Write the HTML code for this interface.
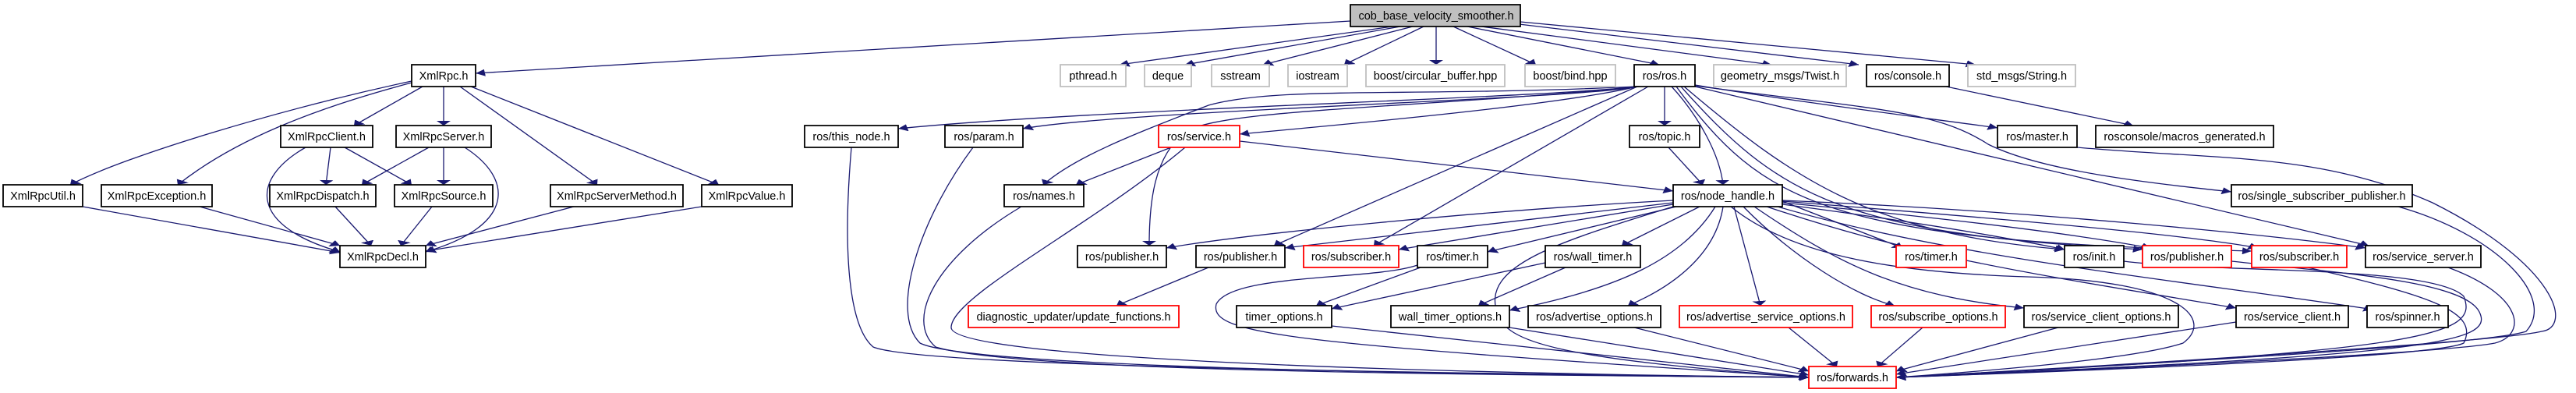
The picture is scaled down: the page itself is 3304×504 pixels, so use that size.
<!DOCTYPE html>
<html><head><meta charset="utf-8"><style>
html,body{margin:0;padding:0;background:#fff;}
svg{display:block;}
.e{fill:none;stroke:#191970;stroke-width:1.3;}
.n{fill:#fff;stroke:#000;stroke-width:1.8;}
.g{fill:#fff;stroke:#bfbfbf;stroke-width:1.8;}
.r{fill:#fff;stroke:#ff0000;stroke-width:1.8;}
text{font-family:"Liberation Sans",sans-serif;font-size:14.5px;text-anchor:middle;fill:#000;}
</style></head><body>
<svg width="3304" height="504" viewBox="0 0 3304 504" xmlns="http://www.w3.org/2000/svg">
<defs><marker id="a" markerWidth="6" markerHeight="9" refX="6" refY="4.5" orient="auto" markerUnits="userSpaceOnUse"><path d="M0,0 L6,4.5 L0,9 z" fill="#191970"/></marker></defs>
<g transform="scale(2,1)">
<g marker-end="url(#a)">
<path class="e" vector-effect="non-scaling-stroke" d="M866,27 L305,94"/>
<path class="e" vector-effect="non-scaling-stroke" d="M893,34 L718,83"/>
<path class="e" vector-effect="non-scaling-stroke" d="M898,34 L760,83"/>
<path class="e" vector-effect="non-scaling-stroke" d="M906,34 L810,83"/>
<path class="e" vector-effect="non-scaling-stroke" d="M913,34 L862,83"/>
<path class="e" vector-effect="non-scaling-stroke" d="M921,34 L921,83"/>
<path class="e" vector-effect="non-scaling-stroke" d="M932,34 L985,83"/>
<path class="e" vector-effect="non-scaling-stroke" d="M941,34 L1064,83"/>
<path class="e" vector-effect="non-scaling-stroke" d="M950,34 L1136,83"/>
<path class="e" vector-effect="non-scaling-stroke" d="M970,30 L1192,83"/>
<path class="e" vector-effect="non-scaling-stroke" d="M975,28 L1267,83"/>
<path class="e" vector-effect="non-scaling-stroke" d="M264,104 C180,140 80,200 45,237"/>
<path class="e" vector-effect="non-scaling-stroke" d="M264,106 C200,140 150,180 114,237"/>
<path class="e" vector-effect="non-scaling-stroke" d="M271,111 L227,161"/>
<path class="e" vector-effect="non-scaling-stroke" d="M284.5,111 L284.5,161"/>
<path class="e" vector-effect="non-scaling-stroke" d="M295,111 L383,237"/>
<path class="e" vector-effect="non-scaling-stroke" d="M302,111 L461,237"/>
<path class="e" vector-effect="non-scaling-stroke" d="M212,189 L209,237"/>
<path class="e" vector-effect="non-scaling-stroke" d="M221,189 L264,237"/>
<path class="e" vector-effect="non-scaling-stroke" d="M196,189 C160,230 160,290 218,323"/>
<path class="e" vector-effect="non-scaling-stroke" d="M275,189 L232,237"/>
<path class="e" vector-effect="non-scaling-stroke" d="M284.5,189 L284.5,237"/>
<path class="e" vector-effect="non-scaling-stroke" d="M298,189 C330,230 330,290 273,323"/>
<path class="e" vector-effect="non-scaling-stroke" d="M53,265 L218,324"/>
<path class="e" vector-effect="non-scaling-stroke" d="M128,265 L218,315"/>
<path class="e" vector-effect="non-scaling-stroke" d="M215,265 L238,315"/>
<path class="e" vector-effect="non-scaling-stroke" d="M277,265 L257,315"/>
<path class="e" vector-effect="non-scaling-stroke" d="M368,265 L273,315"/>
<path class="e" vector-effect="non-scaling-stroke" d="M450,265 L273,322"/>
<path class="e" vector-effect="non-scaling-stroke" d="M1048,111 C1000,125 700,140 576,165"/>
<path class="e" vector-effect="non-scaling-stroke" d="M1048,112 C1000,128 720,142 656,165"/>
<path class="e" vector-effect="non-scaling-stroke" d="M1050,111 C1000,135 860,160 795,172"/>
<path class="e" vector-effect="non-scaling-stroke" d="M1050,111 C900,125 820,110 775,135 C730,170 690,200 669,237"/>
<path class="e" vector-effect="non-scaling-stroke" d="M1052,111 C900,140 780,140 760,170 C740,200 737,260 737,315"/>
<path class="e" vector-effect="non-scaling-stroke" d="M1050,111 L817,315"/>
<path class="e" vector-effect="non-scaling-stroke" d="M1057,111 L881,315"/>
<path class="e" vector-effect="non-scaling-stroke" d="M1067.5,111 L1067.5,161"/>
<path class="e" vector-effect="non-scaling-stroke" d="M1072,111 C1090,150 1103,200 1105,237"/>
<path class="e" vector-effect="non-scaling-stroke" d="M1087,109 C1150,130 1230,150 1281,164"/>
<path class="e" vector-effect="non-scaling-stroke" d="M1087,110 C1200,140 1240,140 1275,185 C1310,220 1380,235 1431,246"/>
<path class="e" vector-effect="non-scaling-stroke" d="M1087,111 L1519,315"/>
<path class="e" vector-effect="non-scaling-stroke" d="M1080,111 C1150,230 1200,300 1324,320"/>
<path class="e" vector-effect="non-scaling-stroke" d="M1078,111 C1140,250 1180,300 1374,320"/>
<path class="e" vector-effect="non-scaling-stroke" d="M1075,111 C1130,260 1170,310 1444,322"/>
<path class="e" vector-effect="non-scaling-stroke" d="M1248,111 L1368,161"/>
<path class="e" vector-effect="non-scaling-stroke" d="M546,189 C540,330 545,420 560,445 C590,470 900,478 1160,484"/>
<path class="e" vector-effect="non-scaling-stroke" d="M624,189 C590,280 570,400 590,440 C620,470 900,480 1160,484"/>
<path class="e" vector-effect="non-scaling-stroke" d="M655,265 C600,330 580,410 600,445 C650,475 900,480 1160,484"/>
<path class="e" vector-effect="non-scaling-stroke" d="M751,189 L690,237"/>
<path class="e" vector-effect="non-scaling-stroke" d="M795,181 L1073,245"/>
<path class="e" vector-effect="non-scaling-stroke" d="M760,189 C700,290 610,380 610,420 C610,460 900,478 1160,484"/>
<path class="e" vector-effect="non-scaling-stroke" d="M1070,189 L1092,237"/>
<path class="e" vector-effect="non-scaling-stroke" d="M1332,189 C1420,205 1487,195 1560,260 C1640,340 1650,420 1630,425 C1600,440 1300,475 1216,484"/>
<path class="e" vector-effect="non-scaling-stroke" d="M1538,265 C1600,300 1640,380 1620,425 C1590,445 1300,475 1216,484"/>
<path class="e" vector-effect="non-scaling-stroke" d="M1570,343 C1620,380 1620,430 1600,440 C1560,455 1300,478 1216,484"/>
<path class="e" vector-effect="non-scaling-stroke" d="M1362,335 C1420,350 1560,340 1580,380 C1590,430 1560,450 1216,484"/>
<path class="e" vector-effect="non-scaling-stroke" d="M1431,335 C1500,350 1580,360 1590,400 C1600,440 1560,455 1216,484"/>
<path class="e" vector-effect="non-scaling-stroke" d="M1480,343 C1560,380 1590,400 1580,440 C1560,460 1300,478 1216,484"/>
<path class="e" vector-effect="non-scaling-stroke" d="M1434,413 L1216,480"/>
<path class="e" vector-effect="non-scaling-stroke" d="M1320,420 L1216,476"/>
<path class="e" vector-effect="non-scaling-stroke" d="M1233,420 L1204,470"/>
<path class="e" vector-effect="non-scaling-stroke" d="M1147,420 L1178,470"/>
<path class="e" vector-effect="non-scaling-stroke" d="M1048,420 L1160,476"/>
<path class="e" vector-effect="non-scaling-stroke" d="M968,420 L1160,481"/>
<path class="e" vector-effect="non-scaling-stroke" d="M854,418 L1160,484"/>
<path class="e" vector-effect="non-scaling-stroke" d="M909,340 C880,360 790,350 780,390 C775,430 830,440 1160,484"/>
<path class="e" vector-effect="non-scaling-stroke" d="M991,337 L854,396"/>
<path class="e" vector-effect="non-scaling-stroke" d="M1004,343 L948,392"/>
<path class="e" vector-effect="non-scaling-stroke" d="M911,343 L844,392"/>
<path class="e" vector-effect="non-scaling-stroke" d="M775,343 L716,392"/>
<path class="e" vector-effect="non-scaling-stroke" d="M1073,257 C950,270 800,300 748,318"/>
<path class="e" vector-effect="non-scaling-stroke" d="M1073,260 L824,318"/>
<path class="e" vector-effect="non-scaling-stroke" d="M1073,262 L897,320"/>
<path class="e" vector-effect="non-scaling-stroke" d="M1075,265 L954,323"/>
<path class="e" vector-effect="non-scaling-stroke" d="M1090,265 L1040,315"/>
<path class="e" vector-effect="non-scaling-stroke" d="M1100,265 C1080,330 1040,370 968,398"/>
<path class="e" vector-effect="non-scaling-stroke" d="M1105,265 C1100,330 1070,370 1044,392"/>
<path class="e" vector-effect="non-scaling-stroke" d="M1112,265 L1129,392"/>
<path class="e" vector-effect="non-scaling-stroke" d="M1118,265 C1150,330 1190,380 1215,392"/>
<path class="e" vector-effect="non-scaling-stroke" d="M1125,265 C1180,340 1220,380 1298,395"/>
<path class="e" vector-effect="non-scaling-stroke" d="M1133,265 C1230,330 1300,350 1434,395"/>
<path class="e" vector-effect="non-scaling-stroke" d="M1140,265 C1250,330 1400,360 1522,397"/>
<path class="e" vector-effect="non-scaling-stroke" d="M1143,258 L1220,318"/>
<path class="e" vector-effect="non-scaling-stroke" d="M1143,262 C1250,290 1300,310 1324,320"/>
<path class="e" vector-effect="non-scaling-stroke" d="M1143,260 C1250,280 1330,300 1379,318"/>
<path class="e" vector-effect="non-scaling-stroke" d="M1143,258 C1280,280 1400,300 1448,318"/>
<path class="e" vector-effect="non-scaling-stroke" d="M1143,257 C1300,270 1450,300 1517,318"/>
<path class="e" vector-effect="non-scaling-stroke" d="M1073,265 C1000,310 950,340 960,400 C965,440 1000,460 1160,484"/>
<path class="e" vector-effect="non-scaling-stroke" d="M1110,265 C1150,330 1220,350 1300,355 C1400,360 1420,410 1400,440 C1370,460 1280,475 1216,484"/>
</g>
<g>
<rect x="866" y="6" width="109" height="28" fill="#bfbfbf" stroke="#000" stroke-width="1.8" vector-effect="non-scaling-stroke"/>
<rect class="n" vector-effect="non-scaling-stroke" x="264" y="83" width="41" height="28"/>
<rect class="g" vector-effect="non-scaling-stroke" x="680" y="83" width="42" height="28"/>
<rect class="g" vector-effect="non-scaling-stroke" x="734" y="83" width="30" height="28"/>
<rect class="g" vector-effect="non-scaling-stroke" x="777" y="83" width="37" height="28"/>
<rect class="g" vector-effect="non-scaling-stroke" x="826" y="83" width="38" height="28"/>
<rect class="g" vector-effect="non-scaling-stroke" x="876" y="83" width="89" height="28"/>
<rect class="g" vector-effect="non-scaling-stroke" x="978" y="83" width="58" height="28"/>
<rect class="n" vector-effect="non-scaling-stroke" x="1048" y="83" width="39" height="28"/>
<rect class="g" vector-effect="non-scaling-stroke" x="1099" y="83" width="85" height="28"/>
<rect class="n" vector-effect="non-scaling-stroke" x="1197" y="83" width="53" height="28"/>
<rect class="g" vector-effect="non-scaling-stroke" x="1262" y="83" width="69" height="28"/>
<rect class="n" vector-effect="non-scaling-stroke" x="180" y="161" width="59" height="28"/>
<rect class="n" vector-effect="non-scaling-stroke" x="254" y="161" width="61" height="28"/>
<rect class="n" vector-effect="non-scaling-stroke" x="516" y="161" width="60" height="28"/>
<rect class="n" vector-effect="non-scaling-stroke" x="606" y="161" width="50" height="28"/>
<rect class="r" vector-effect="non-scaling-stroke" x="743" y="161" width="52" height="28"/>
<rect class="n" vector-effect="non-scaling-stroke" x="1045" y="161" width="45" height="28"/>
<rect class="n" vector-effect="non-scaling-stroke" x="1281" y="161" width="51" height="28"/>
<rect class="n" vector-effect="non-scaling-stroke" x="1344" y="161" width="114" height="28"/>
<rect class="n" vector-effect="non-scaling-stroke" x="2" y="237" width="51" height="28"/>
<rect class="n" vector-effect="non-scaling-stroke" x="65" y="237" width="71" height="28"/>
<rect class="n" vector-effect="non-scaling-stroke" x="173" y="237" width="68" height="28"/>
<rect class="n" vector-effect="non-scaling-stroke" x="253" y="237" width="63" height="28"/>
<rect class="n" vector-effect="non-scaling-stroke" x="353" y="237" width="85" height="28"/>
<rect class="n" vector-effect="non-scaling-stroke" x="450" y="237" width="58" height="28"/>
<rect class="n" vector-effect="non-scaling-stroke" x="644" y="237" width="51" height="28"/>
<rect class="n" vector-effect="non-scaling-stroke" x="1073" y="237" width="70" height="28"/>
<rect class="n" vector-effect="non-scaling-stroke" x="1431" y="237" width="116" height="28"/>
<rect class="n" vector-effect="non-scaling-stroke" x="218" y="315" width="55" height="28"/>
<rect class="n" vector-effect="non-scaling-stroke" x="691" y="315" width="57" height="28"/>
<rect class="n" vector-effect="non-scaling-stroke" x="767" y="315" width="57" height="28"/>
<rect class="r" vector-effect="non-scaling-stroke" x="836" y="315" width="61" height="28"/>
<rect class="n" vector-effect="non-scaling-stroke" x="909" y="315" width="45" height="28"/>
<rect class="n" vector-effect="non-scaling-stroke" x="991" y="315" width="61" height="28"/>
<rect class="r" vector-effect="non-scaling-stroke" x="1216" y="315" width="45" height="28"/>
<rect class="n" vector-effect="non-scaling-stroke" x="1324" y="315" width="38" height="28"/>
<rect class="r" vector-effect="non-scaling-stroke" x="1374" y="315" width="57" height="28"/>
<rect class="r" vector-effect="non-scaling-stroke" x="1444" y="315" width="61" height="28"/>
<rect class="n" vector-effect="non-scaling-stroke" x="1517" y="315" width="74" height="28"/>
<rect class="r" vector-effect="non-scaling-stroke" x="621" y="392" width="135" height="28"/>
<rect class="n" vector-effect="non-scaling-stroke" x="793" y="392" width="61" height="28"/>
<rect class="n" vector-effect="non-scaling-stroke" x="892" y="392" width="76" height="28"/>
<rect class="n" vector-effect="non-scaling-stroke" x="980" y="392" width="85" height="28"/>
<rect class="r" vector-effect="non-scaling-stroke" x="1077" y="392" width="111" height="28"/>
<rect class="r" vector-effect="non-scaling-stroke" x="1200" y="392" width="86" height="28"/>
<rect class="n" vector-effect="non-scaling-stroke" x="1298" y="392" width="99" height="28"/>
<rect class="n" vector-effect="non-scaling-stroke" x="1434" y="392" width="72" height="28"/>
<rect class="n" vector-effect="non-scaling-stroke" x="1518" y="392" width="52" height="28"/>
<rect class="r" vector-effect="non-scaling-stroke" x="1160" y="470" width="56" height="28"/>
</g>
</g>
<g>
<text x="1842" y="25">cob_base_velocity_smoother.h</text>
<text x="569" y="102">XmlRpc.h</text>
<text x="1402" y="102">pthread.h</text>
<text x="1498" y="102">deque</text>
<text x="1591" y="102">sstream</text>
<text x="1690" y="102">iostream</text>
<text x="1841" y="102">boost/circular_buffer.hpp</text>
<text x="2014" y="102">boost/bind.hpp</text>
<text x="2135" y="102">ros/ros.h</text>
<text x="2283" y="102">geometry_msgs/Twist.h</text>
<text x="2447" y="102">ros/console.h</text>
<text x="2593" y="102">std_msgs/String.h</text>
<text x="419" y="180">XmlRpcClient.h</text>
<text x="569" y="180">XmlRpcServer.h</text>
<text x="1092" y="180">ros/this_node.h</text>
<text x="1262" y="180">ros/param.h</text>
<text x="1538" y="180">ros/service.h</text>
<text x="2135" y="180">ros/topic.h</text>
<text x="2613" y="180">ros/master.h</text>
<text x="2802" y="180">rosconsole/macros_generated.h</text>
<text x="55" y="256">XmlRpcUtil.h</text>
<text x="201" y="256">XmlRpcException.h</text>
<text x="414" y="256">XmlRpcDispatch.h</text>
<text x="569" y="256">XmlRpcSource.h</text>
<text x="791" y="256">XmlRpcServerMethod.h</text>
<text x="958" y="256">XmlRpcValue.h</text>
<text x="1339" y="256">ros/names.h</text>
<text x="2216" y="256">ros/node_handle.h</text>
<text x="2978" y="256">ros/single_subscriber_publisher.h</text>
<text x="491" y="334">XmlRpcDecl.h</text>
<text x="1439" y="334">ros/publisher.h</text>
<text x="1591" y="334">ros/publisher.h</text>
<text x="1733" y="334">ros/subscriber.h</text>
<text x="1863" y="334">ros/timer.h</text>
<text x="2043" y="334">ros/wall_timer.h</text>
<text x="2477" y="334">ros/timer.h</text>
<text x="2686" y="334">ros/init.h</text>
<text x="2805" y="334">ros/publisher.h</text>
<text x="2949" y="334">ros/subscriber.h</text>
<text x="3108" y="334">ros/service_server.h</text>
<text x="1377" y="411">diagnostic_updater/update_functions.h</text>
<text x="1647" y="411">timer_options.h</text>
<text x="1860" y="411">wall_timer_options.h</text>
<text x="2045" y="411">ros/advertise_options.h</text>
<text x="2265" y="411">ros/advertise_service_options.h</text>
<text x="2486" y="411">ros/subscribe_options.h</text>
<text x="2695" y="411">ros/service_client_options.h</text>
<text x="2940" y="411">ros/service_client.h</text>
<text x="3088" y="411">ros/spinner.h</text>
<text x="2376" y="489">ros/forwards.h</text>
</g>
</svg>
</body></html>
